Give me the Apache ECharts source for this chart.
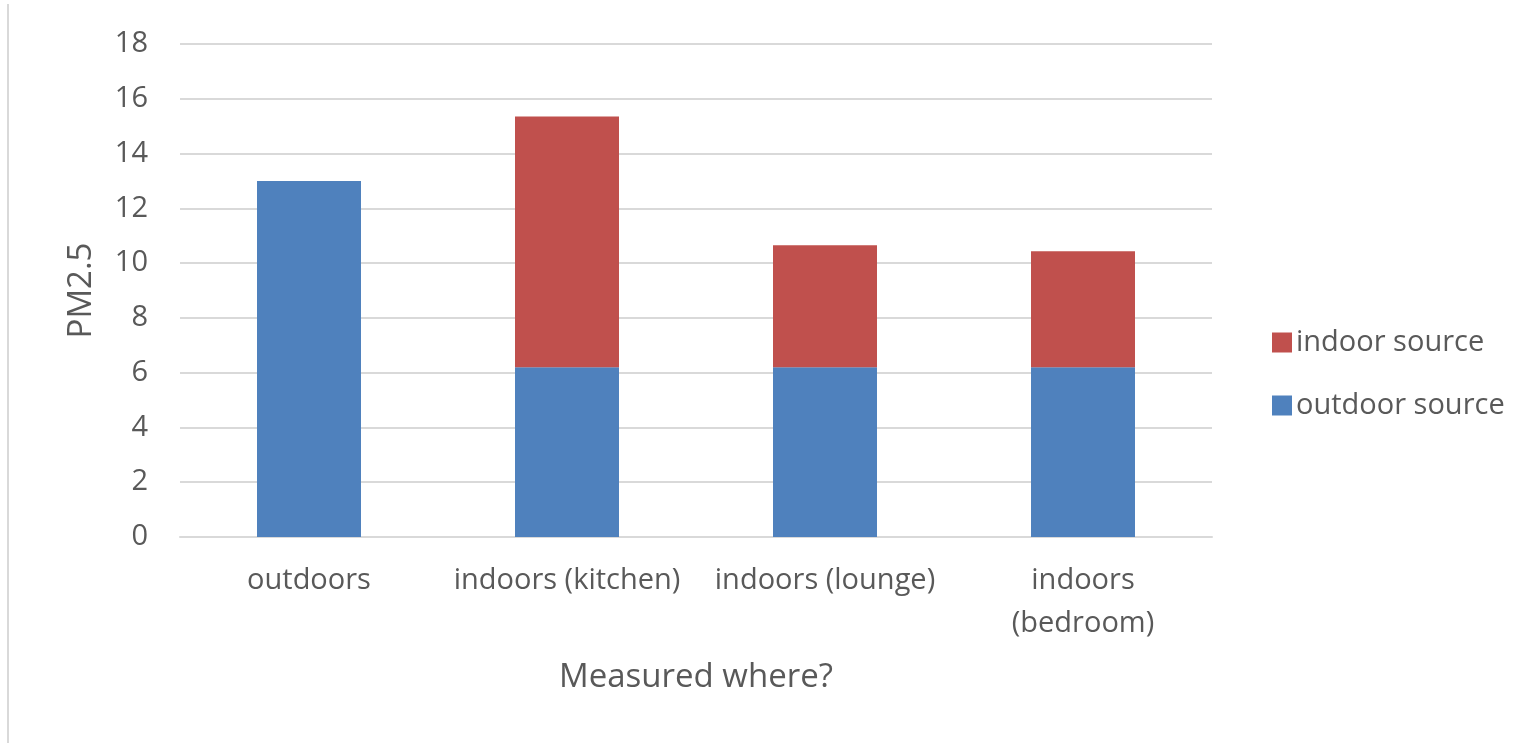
<!DOCTYPE html>
<html>
<head>
<meta charset="utf-8">
<script src="https://cdn.jsdelivr.net/npm/echarts@6/dist/echarts.min.js"></script>
<style>
html,body{margin:0;padding:0;background:#fff;}
#c{width:1532px;height:743px;}
</style>
</head>
<body>
<div id="c"></div>
<script>
const categories = ['outdoors', 'indoors (kitchen)', 'indoors (lounge)', 'indoors\n(bedroom)'];
const outdoorSource = [13, 6.2, 6.2, 6.2];
const indoorSource = ['-', 9.15, 4.45, 4.23];
const yTicks = { min: 0, max: 18, interval: 2 };

const FONT = '"Open Sans", "Noto Sans", sans-serif';
const TXT = '#595959';
const chart = echarts.init(document.getElementById('c'), null, { renderer: 'canvas' });
chart.setOption({
  animation: false,
  backgroundColor: '#fff',
  textStyle: { fontFamily: FONT },
  graphic: [{
    type: 'line', shape: { x1: 8, y1: 4, x2: 8, y2: 743 },
    style: { stroke: '#d9d9d9', lineWidth: 2 }
  }],
  grid: { left: 180, right: 320, top: 44, bottom: 206, containLabel: false },
  legend: {
    orient: 'vertical', left: 1272, top: 328, padding: 0,
    itemWidth: 20, itemHeight: 20, itemGap: 34,
    icon: 'rect',
    textStyle: { fontSize: 29, color: TXT, fontFamily: FONT, padding: [0, 0, 0, -1] },
    data: ['indoor source', 'outdoor source']
  },
  xAxis: {
    type: 'category', data: categories,
    name: 'Measured where?', nameLocation: 'middle', nameGap: 124,
    nameTextStyle: { fontSize: 33, color: TXT, fontFamily: FONT },
    axisLine: { show: true, lineStyle: { color: '#d9d9d9', width: 2 } },
    axisTick: { show: false },
    axisLabel: { fontSize: 29, color: TXT, fontFamily: FONT, margin: 22, lineHeight: 43, interval: 0 }
  },
  yAxis: {
    type: 'value', min: yTicks.min, max: yTicks.max, interval: yTicks.interval,
    name: 'PM2.5', nameLocation: 'middle', nameGap: 82,
    nameTextStyle: { fontSize: 33, color: TXT, fontFamily: FONT },
    axisLine: { show: false }, axisTick: { show: false },
    axisLabel: { fontSize: 29, color: TXT, fontFamily: FONT, margin: 32 },
    splitLine: { lineStyle: { color: '#d9d9d9', width: 2 } }
  },
  series: [
    { name: 'outdoor source', type: 'bar', stack: 'pm', data: outdoorSource,
      barWidth: 104, itemStyle: { color: '#4F81BD' } },
    { name: 'indoor source', type: 'bar', stack: 'pm', data: indoorSource,
      barWidth: 104, itemStyle: { color: '#C0504D' } }
  ]
});
</script>
</body>
</html>
